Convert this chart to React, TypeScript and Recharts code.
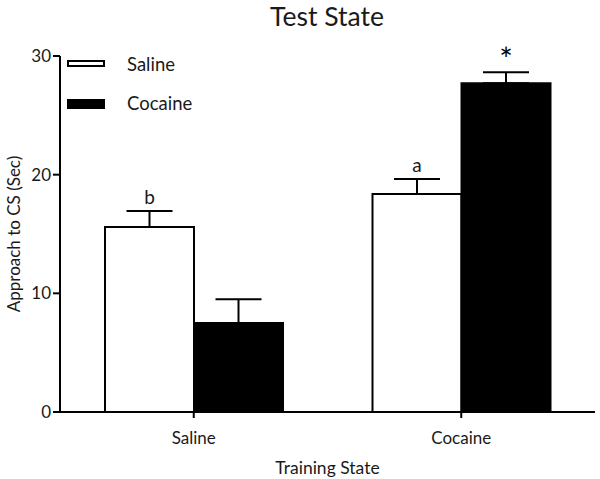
import React from 'react';
import { BarChart, Bar, XAxis, YAxis, ErrorBar, Legend, LabelList, Label } from 'recharts';

const categories = ['Saline', 'Cocaine'];
const salineMeans = [15.6, 18.37];
const salineErrors = [1.33, 1.26];
const cocaineMeans = [7.5, 27.7];
const cocaineErrors = [2.0, 0.94];
const salineMarks = ['b', 'a'];
const cocaineMarks = ['', '*'];
const yTicks = [0, 10, 20, 30];
const seriesNames = ['Saline', 'Cocaine'];

const data = categories.map((c, i) => ({
  category: c,
  saline: salineMeans[i],
  salineErr: [0, salineErrors[i]],
  salineMark: salineMarks[i],
  cocaine: cocaineMeans[i],
  cocaineErr: [0, cocaineErrors[i]],
  cocaineMark: cocaineMarks[i],
}));

const FONT = 'Lato, "Open Sans", sans-serif';
const TEXT = '#1a1a1a';

const makeMark = (means: number[], errs: number[]) => (props: any) => {
  const vb = props.viewBox || props;
  const x = Number(vb.x ?? props.x);
  const y = Number(vb.y ?? props.y);
  const w = Number(vb.width ?? props.width);
  const h = Number(vb.height ?? props.height);
  const idx = props.index;
  const value = props.value;
  if (!value || idx == null) return null;
  const capY = y - (h * errs[idx]) / means[idx];
  const isStar = value === '*';
  return (
    <text
      x={x + w / 2}
      y={isStar ? capY - 1 : capY - 7}
      textAnchor="middle"
      fontFamily={FONT}
      fontSize={isStar ? 32 : 19}
      fill={isStar ? '#000' : TEXT}
    >
      {value}
    </text>
  );
};

const LegendContent = () => (
  <svg width={200} height={64} style={{ overflow: 'visible', display: 'block' }}>
    <rect x={8} y={11} width={36} height={5} fill="#fff" stroke="#000" strokeWidth={2} />
    <text x={67} y={14} dominantBaseline="central" fontFamily={FONT} fontSize={18.5} fill={TEXT}>
      {seriesNames[0]}
    </text>
    <rect x={7} y={49} width={38} height={10} fill="#000" />
    <text x={67} y={53} dominantBaseline="central" fontFamily={FONT} fontSize={18.5} fill={TEXT}>
      {seriesNames[1]}
    </text>
  </svg>
);

export default function App() {
  return (
    <div style={{ position: 'absolute', left: 0, top: 0, width: 600, height: 479, background: '#fff' }}>
      <svg width={600} height={40} style={{ position: 'absolute', left: 0, top: 0 }}>
        <text x={327} y={26} textAnchor="middle" fontFamily={FONT} fontSize={26.5} fill={TEXT}>
          Test State
        </text>
      </svg>
      <BarChart
        width={600}
        height={479}
        data={data}
        margin={{ top: 56, right: 5, left: 0, bottom: 0 }}
        barCategoryGap={45}
        barGap={0}
        style={{ position: 'absolute', left: 0, top: 0 }}
      >
        <XAxis
          dataKey="category"
          height={67}
          tickSize={6}
          tickMargin={14}
          axisLine={{ stroke: '#000', strokeWidth: 2 }}
          tickLine={{ stroke: '#000', strokeWidth: 2 }}
          tick={{ fontSize: 17, fill: TEXT, fontFamily: FONT }}
        >
          <Label
            value="Training State"
            position="insideBottom"
            offset={5}
            style={{ fontSize: 17.5, fill: TEXT, fontFamily: FONT }}
          />
        </XAxis>
        <YAxis
          width={60}
          domain={[0, 30]}
          ticks={yTicks}
          allowDataOverflow
          tickSize={7}
          tickMargin={2}
          axisLine={{ stroke: '#000', strokeWidth: 2 }}
          tickLine={{ stroke: '#000', strokeWidth: 2 }}
          tick={{ fontSize: 17, fill: TEXT, fontFamily: FONT }}
        >
          <Label
            value="Approach to CS (Sec)"
            angle={-90}
            position="insideLeft"
            offset={14}
            style={{ fontSize: 17, fill: TEXT, fontFamily: FONT, textAnchor: 'middle' }}
          />
        </YAxis>
        <Legend
          layout="vertical"
          align="left"
          verticalAlign="top"
          content={<LegendContent />}
          wrapperStyle={{ position: 'absolute', left: 60, top: 50, width: 0, height: 0, overflow: 'visible' }}
        />
        <Bar dataKey="saline" name={seriesNames[0]} fill="#fff" stroke="#000" strokeWidth={2} isAnimationActive={false}>
          <ErrorBar dataKey="salineErr" direction="y" width={23} stroke="#000" strokeWidth={2} isAnimationActive={false} />
          <LabelList dataKey="salineMark" content={makeMark(salineMeans, salineErrors)} />
        </Bar>
        <Bar dataKey="cocaine" name={seriesNames[1]} fill="#000" stroke="#000" strokeWidth={2} isAnimationActive={false}>
          <ErrorBar dataKey="cocaineErr" direction="y" width={23} stroke="#000" strokeWidth={2} isAnimationActive={false} />
          <LabelList dataKey="cocaineMark" content={makeMark(cocaineMeans, cocaineErrors)} />
        </Bar>
      </BarChart>
    </div>
  );
}
